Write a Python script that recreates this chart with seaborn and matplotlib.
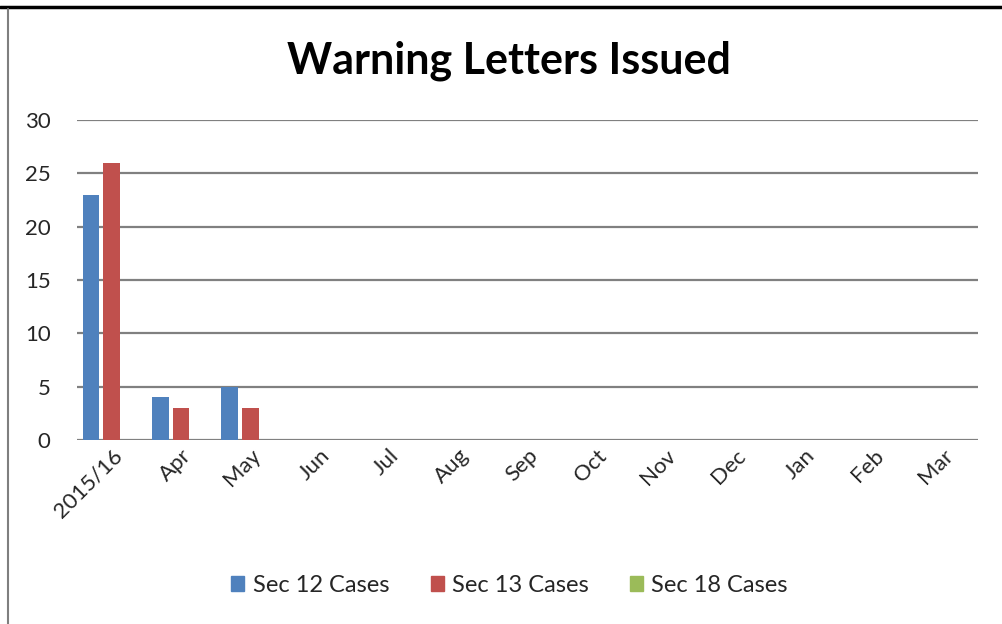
import numpy as np
import pandas as pd
import matplotlib
matplotlib.use("Agg")
import matplotlib.pyplot as plt
import matplotlib.patches as mpatches
import matplotlib.lines as mlines
import seaborn as sns

sns.set_theme(style="white")
plt.rcParams['font.family'] = ['Lato', 'DejaVu Sans']

months = ['2015/16', 'Apr', 'May', 'Jun', 'Jul', 'Aug', 'Sep',
          'Oct', 'Nov', 'Dec', 'Jan', 'Feb', 'Mar']
sec12 = [23, 4, 5] + [np.nan] * 10
sec13 = [26, 3, 3] + [np.nan] * 10
sec18 = [np.nan] * 13

series = ['Sec 12 Cases', 'Sec 13 Cases', 'Sec 18 Cases']
colors = ['#4F81BD', '#C0504D', '#9BBB59']

df = pd.DataFrame({
    'Month': months * 3,
    'Series': [s for s in series for _ in months],
    'Count': sec12 + sec13 + sec18,
})

fig = plt.figure(figsize=(10.03, 6.24), dpi=100)
ax = fig.add_axes([0.0768, 0.2949, 0.8982, 0.5128])

sns.barplot(data=df, x='Month', y='Count', hue='Series',
            order=months, hue_order=series, palette=colors,
            width=0.9, gap=0.2, linewidth=0, saturation=1,
            legend=False, ax=ax)

ax.set_ylim(0, 30)
ax.set_yticks(range(0, 31, 5))
ax.set_xlim(-0.5, len(months) - 0.5)
ax.yaxis.grid(True, color='#808080', linewidth=1.6)
ax.set_axisbelow(True)
for s in ax.spines.values():
    s.set_visible(False)
ax.set_xlabel('')
ax.set_ylabel('')
ax.tick_params(axis='y', labelsize=16, pad=19, length=0)
ax.tick_params(axis='x', labelsize=16, length=0, pad=4)
plt.setp(ax.get_xticklabels(), rotation=45, ha='right', rotation_mode='anchor')

fig.text(0.507, 0.903, 'Warning Letters Issued', ha='center', va='center',
         fontsize=31, fontweight='bold', color='black')

handles = [mpatches.Patch(color=c, label=s) for c, s in zip(colors, series)]
fig.legend(handles=handles, loc='center', bbox_to_anchor=(0.508, 0.062),
           ncol=3, frameon=False, fontsize=17, handlelength=0.55,
           handleheight=0.55, handletextpad=0.35, columnspacing=1.75)

# outer frame lines of the cropped chart
fig.add_artist(mlines.Line2D([0, 1], [0.988, 0.988], color='black', linewidth=2.5,
                             transform=fig.transFigure))
fig.add_artist(mlines.Line2D([0.0075, 0.0075], [0, 0.986], color='#7f7f7f', linewidth=1.5,
                             transform=fig.transFigure))

fig.savefig('out.png', dpi=100)
